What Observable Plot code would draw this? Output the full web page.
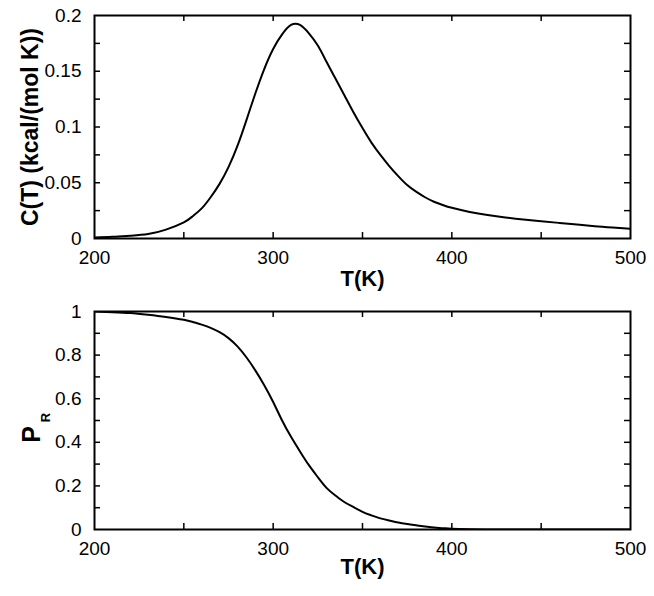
<!DOCTYPE html>
<html><head><meta charset="utf-8">
<script src="https://cdn.jsdelivr.net/npm/d3@7"></script>
<script src="https://cdn.jsdelivr.net/npm/@observablehq/plot@0.6"></script>
<style>body{margin:0;background:#fff} svg{display:block}</style>
</head><body><div id="chart"></div>
<script>
// Temperature grid (K)
const temps = [200, 210, 220, 230, 240, 250, 255, 260, 265, 270, 275, 280, 285, 290, 295, 300, 305, 310, 315, 320, 325, 330, 335, 340, 345, 350, 355, 360, 365, 370, 375, 380, 385, 390, 395, 400, 410, 420, 430, 440, 450, 460, 470, 480, 490, 500];
// Specific heat C(T) (kcal/(mol K))
const heatCapacity = [0.001, 0.0015, 0.0025, 0.004, 0.008, 0.0145, 0.020, 0.027, 0.037, 0.049, 0.064, 0.083, 0.106, 0.130, 0.152, 0.170, 0.183, 0.1915, 0.1915, 0.184, 0.173, 0.158, 0.143, 0.128, 0.113, 0.099, 0.086, 0.075, 0.065, 0.056, 0.048, 0.042, 0.037, 0.033, 0.030, 0.0275, 0.0238, 0.021, 0.0188, 0.017, 0.0155, 0.014, 0.0125, 0.011, 0.0098, 0.0087];
// Probability P_R
const probR = [1.0, 0.997, 0.993, 0.985, 0.975, 0.962, 0.952, 0.94, 0.925, 0.905, 0.878, 0.84, 0.79, 0.73, 0.662, 0.585, 0.50, 0.425, 0.358, 0.295, 0.24, 0.19, 0.155, 0.125, 0.103, 0.081, 0.065, 0.051, 0.041, 0.032, 0.025, 0.019, 0.014, 0.009, 0.006, 0.003, 0.001, 0, 0, 0, 0, 0, 0, 0, 0, 0];

const xMajorTicks = [200, 300, 400, 500];
const xAllTicks = [250, 300, 350, 400, 450];
const cMajorTicks = [0, 0.05, 0.1, 0.15, 0.2];
const cAllTicks = [0.025, 0.05, 0.075, 0.1, 0.125, 0.15, 0.175];
const pMajorTicks = [0, 0.2, 0.4, 0.6, 0.8, 1];
const pAllTicks = [0.1, 0.2, 0.3, 0.4, 0.5, 0.6, 0.7, 0.8, 0.9];

const rows = temps.map((T, i) => ({T, C: heatCapacity[i], P: probR[i]}));

const W = 654, ML = 94, MR = 24;
const plotW = W - ML - MR;

function panel({yKey, yDomain, yMajor, yAll, height, marginTop, marginBottom, labelMarks, xLabelDy}) {
  const plotH = height - marginTop - marginBottom;
  return Plot.plot({
    width: W, height, marginLeft: ML, marginRight: MR, marginTop, marginBottom,
    style: {fontFamily: "'Liberation Sans', Arial, Helvetica, sans-serif", background: "white", color: "black"},
    x: {domain: [200, 500]},
    y: {domain: yDomain},
    marks: [
      Plot.axisX(xMajorTicks, {tickSize: 0, tickPadding: 12, fontSize: 19, label: null, tickFormat: d => String(d)}),
      Plot.axisY(yMajor, {tickSize: 0, tickPadding: 13, fontSize: 19, label: null, tickFormat: d => String(d)}),
      Plot.tickX(xAllTicks, {x: d => d, insetTop: plotH - 6, strokeWidth: 1.5, stroke: "black"}),
      Plot.tickX(xAllTicks, {x: d => d, insetBottom: plotH - 6, strokeWidth: 1.5, stroke: "black"}),
      Plot.tickY(yAll, {y: d => d, insetRight: plotW - 6, strokeWidth: 1.5, stroke: "black"}),
      Plot.tickY(yAll, {y: d => d, insetLeft: plotW - 6, strokeWidth: 1.5, stroke: "black"}),
      Plot.frame({stroke: "black", strokeWidth: 2}),
      Plot.line(rows, {x: "T", y: yKey, curve: "natural", stroke: "black", strokeWidth: 2, clip: true}),
      Plot.text(["T(K)"], {text: d => d, frameAnchor: "bottom", lineAnchor: "middle", dy: xLabelDy, fontSize: 22, fontWeight: "bold", fill: "black"}),
      ...labelMarks
    ]
  });
}

const topPanel = panel({
  yKey: "C", yDomain: [0, 0.2], yMajor: cMajorTicks, yAll: cAllTicks,
  height: 296, marginTop: 15, marginBottom: 58, xLabelDy: 40,
  labelMarks: [
    Plot.text(["C(T) (kcal/(mol K))"], {text: d => d, frameAnchor: "left", textAnchor: "middle", lineAnchor: "middle", rotate: -90, dx: -64, fontSize: 23, fontWeight: "bold", fill: "black"})
  ]
});

const bottomPanel = panel({
  yKey: "P", yDomain: [0, 1], yMajor: pMajorTicks, yAll: pAllTicks,
  height: 300, marginTop: 15, marginBottom: 67, xLabelDy: 37,
  labelMarks: [
    Plot.text(["P"], {text: d => d, frameAnchor: "left", textAnchor: "middle", lineAnchor: "middle", rotate: -90, dx: -63, dy: 14, fontSize: 25, fontWeight: "bold", fill: "black"}),
    Plot.text(["R"], {text: d => d, frameAnchor: "left", textAnchor: "middle", lineAnchor: "middle", rotate: -90, dx: -49, dy: -3, fontSize: 13, fontWeight: "bold", fill: "black"})
  ]
});

document.getElementById("chart").append(topPanel, bottomPanel);
</script>
</body></html>
